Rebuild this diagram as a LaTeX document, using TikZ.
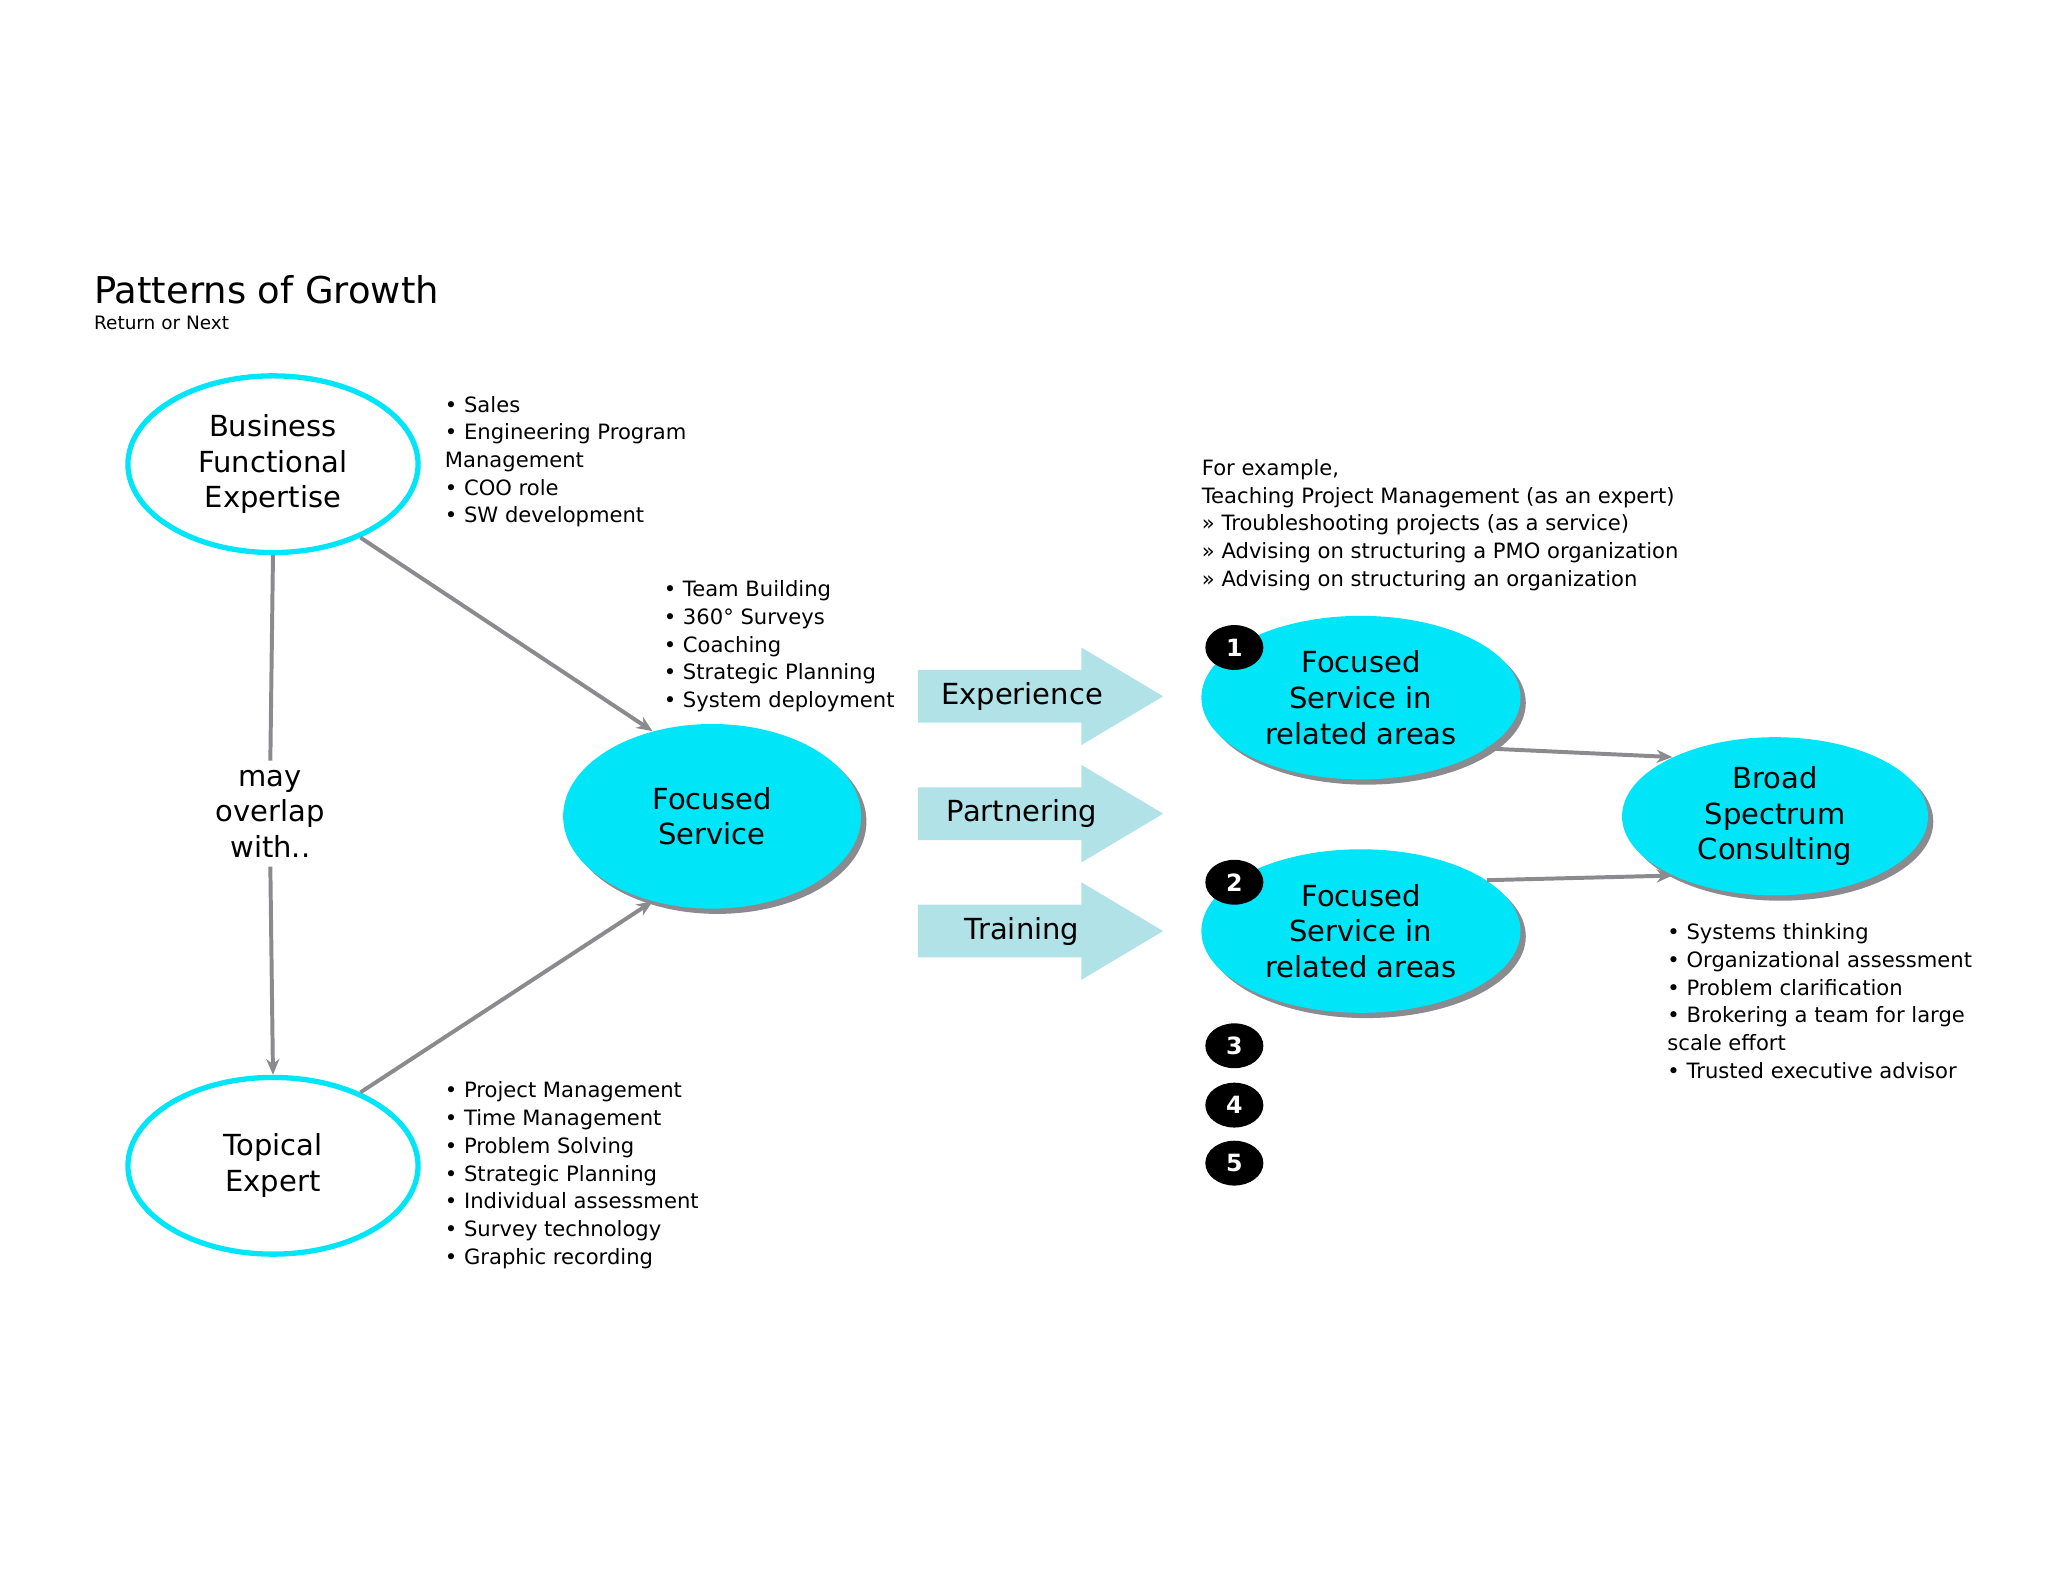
\documentclass[tikz,border=0pt]{standalone}
\usepackage{fontspec}
\setmainfont{DejaVu Sans}
\usetikzlibrary{shapes.geometric,arrows.meta}
\definecolor{cy}{HTML}{00E5F8}
\definecolor{lb}{HTML}{B0E2E8}
\definecolor{gl}{HTML}{8A8A8F}
\begin{document}
\begin{tikzpicture}[x=0.5pt,y=-0.5pt,
 wov/.style={ellipse,draw=cy,line width=2pt,fill=white,inner sep=0pt,align=center,font=\fontsize{11}{13.5}\selectfont},
 fov/.style={ellipse,fill=cy,inner sep=0pt,align=center,font=\fontsize{11}{13.5}\selectfont},
 shd/.style={ellipse,fill=gl},
 con/.style={draw=gl,line width=1.5pt,-{Stealth[length=6pt,width=5pt]}},
 lst/.style={anchor=north west,align=left,inner sep=0pt,font=\fontsize{8}{10.5}\selectfont},
 num/.style={ellipse,fill=black,text=white,minimum width=22pt,minimum height=17pt,inner sep=0pt,font=\bfseries\fontsize{9}{10}\selectfont}]
\useasboundingbox (0,0) rectangle (1553,1200);
\node[anchor=west,inner sep=0pt,font=\fontsize{14}{16}\selectfont] (title) at (71,220) {Patterns of Growth};
\node[anchor=west,inner sep=0pt,font=\fontsize{7}{8}\selectfont] (ret) at (71,245) {Return or Next};
% white ellipses
\node[wov,minimum width=110pt,minimum height=67pt] (bus) at (207,352) {Business\\Functional\\Expertise};
\node[wov,minimum width=110pt,minimum height=67pt] (top) at (207,884) {Topical\\Expert};
% shadows
\node[shd,minimum width=113pt,minimum height=70pt] (s0) at (544,623) {};
\node[shd,minimum width=121pt,minimum height=62pt] (s1) at (1036,533) {};
\node[shd,minimum width=121pt,minimum height=62pt] (s2) at (1036,710) {};
\node[shd,minimum width=116pt,minimum height=60pt] (s3) at (1350,623) {};
\node[fov,minimum width=113pt,minimum height=70pt] (fs) at (540,619) {Focused\\Service};
\node[fov,minimum width=121pt,minimum height=62pt] (f1) at (1032,529) {Focused\\Service in\\related areas};
\node[fov,minimum width=121pt,minimum height=62pt] (f2) at (1032,706) {Focused\\Service in\\related areas};
\node[fov,minimum width=116pt,minimum height=60pt] (br) at (1346,619) {Broad\\Spectrum\\Consulting};
% numbers
\node[num] (n1) at (936,491) {1};
\node[num] (n2) at (936,669) {2};
\node[num] (n3) at (936,793) {3};
\node[num] (n4) at (936,838) {4};
\node[num] (n5) at (936,882) {5};
% block arrows
\foreach \yy/\lab/\nm in {528/Experience/ea,617/Partnering/pa,706/Training/ta}{
 \fill[lb] (696,\yy-20) -- (820,\yy-20) -- (820,\yy-37) -- (882,\yy) -- (820,\yy+37) -- (820,\yy+20) -- (696,\yy+20) -- cycle;
 \node[font=\fontsize{11}{13}\selectfont,inner sep=0pt] (\nm) at (775,\yy) {\lab};
}
% connectors
\node[align=center,font=\fontsize{11}{13.5}\selectfont] (may) at (205,617) {may\\overlap\\with..};
\draw[draw=gl,line width=1.5pt] (bus.south) -- (may.north);
\draw[con] (may.south) -- (top.north);
\draw[con] (bus.-40) -- (fs.125);
\draw[con] (top.40) -- (fs.-125);
\draw[con] (f1.-22) -- (br.150);
\draw[con] (f2.22) -- (br.-150);
% lists
\node[lst] (l1) at (337,300) {• Sales\\• Engineering Program\\Management\\• COO role\\• SW development};
\node[lst] (l2) at (503,440) {• Team Building\\• 360° Surveys\\• Coaching\\• Strategic Planning\\• System deployment};
\node[lst] (l3) at (337,820) {• Project Management\\• Time Management\\• Problem Solving\\• Strategic Planning\\• Individual assessment\\• Survey technology\\• Graphic recording};
\node[lst] (l4) at (911,348) {For example,\\Teaching Project Management (as an expert)\\>> Troubleshooting projects (as a service)\\>> Advising on structuring a PMO organization\\>> Advising on structuring an organization};
\node[lst] (l5) at (1264,700) {• Systems thinking\\• Organizational assessment\\• Problem clarification\\• Brokering a team for large\\scale effort\\• Trusted executive advisor};
\end{tikzpicture}
\end{document}
